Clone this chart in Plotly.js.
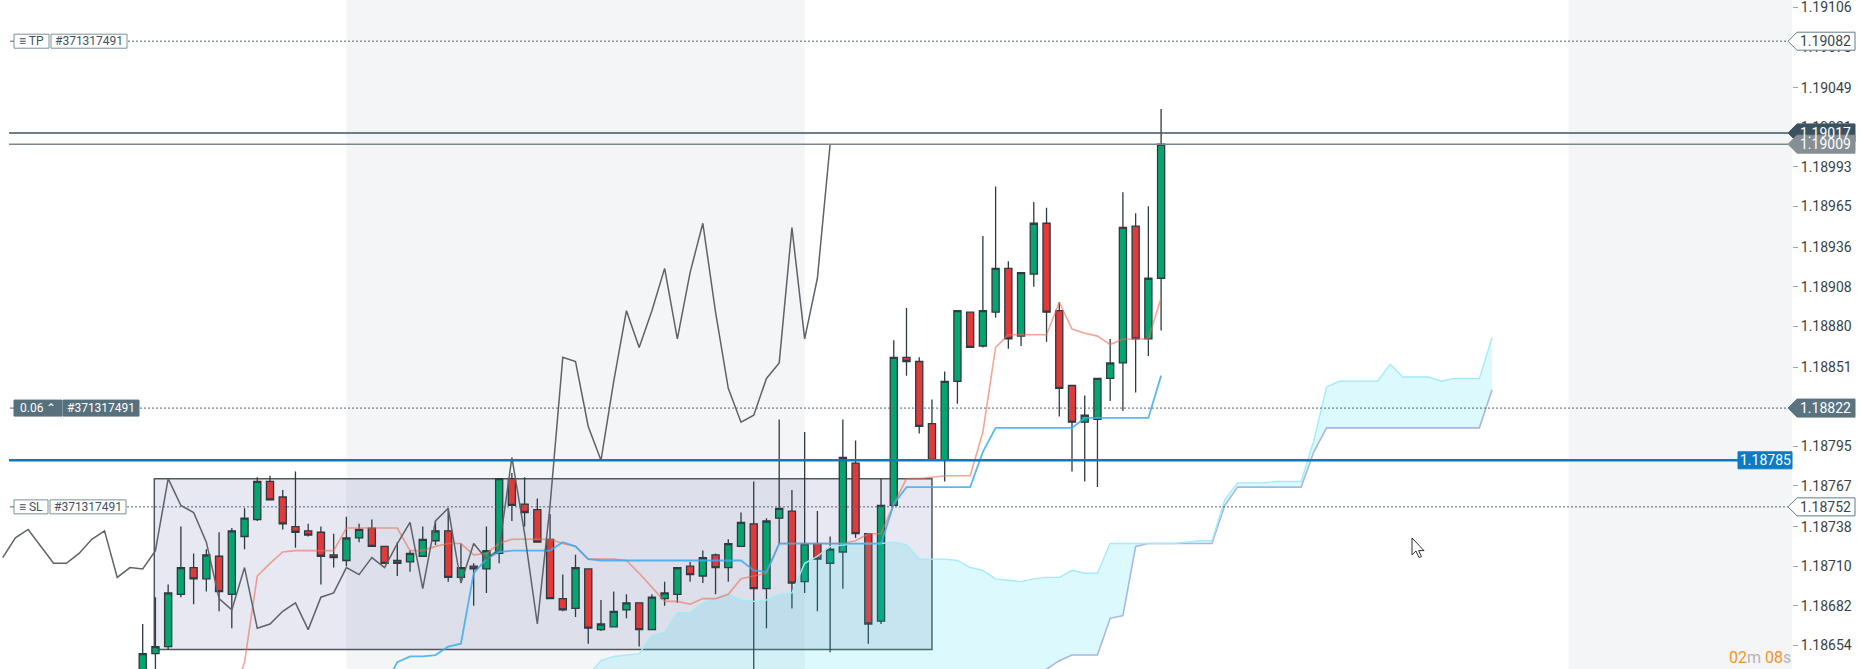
<!DOCTYPE html>
<html><head><meta charset="utf-8">
<script src="https://cdn.plot.ly/plotly-3.0.1.min.js"></script>
<style>html,body{margin:0;padding:0;background:#fff;overflow:hidden}#chart{width:1862px;height:669px}</style>
</head><body><div id="chart"></div>
<script>
// ---------- DATA ----------
const openP = [
 1.18633,1.18648,1.18653,1.18690,1.18709,1.18701,1.18717,1.18690,1.18731,1.18743,
 1.18770,1.18759,1.18738,1.18735,1.18734,1.18718,1.18714,1.18730,1.18737,1.18724,
 1.18714,1.18713,1.18717,1.18728,1.18735,1.18702,1.18710,1.18708,1.18719,1.18772,
 1.18754,1.18750,1.18729,1.18687,1.18680,1.18708,1.18665,1.18667,1.18679,1.18684,
 1.18665,1.18687,1.18690,1.18710,1.18703,1.18718,1.18709,1.18724,1.18740,1.18694,
 1.18744,1.18749,1.18699,1.18726,1.18712,1.18720,1.18783,1.18733,1.18671,1.18753,
 1.18858,1.18855,1.18811,1.18785,1.18841,1.18890,1.18866,1.18890,1.18921,1.18873,
 1.18917,1.18953,1.18891,1.18838,1.18812,1.18814,1.18843,1.18854,1.18951,1.18871,
 1.18914];
const highP = [
 1.18669,1.18688,1.18697,1.18738,1.18719,1.18722,1.18734,1.18737,1.18751,1.18773,
 1.18774,1.18764,1.18777,1.18740,1.18738,1.18733,1.18745,1.18740,1.18743,1.18724,
 1.18727,1.18721,1.18738,1.18742,1.18751,1.18726,1.18712,1.18738,1.18772,1.18776,
 1.18773,1.18758,1.18747,1.18704,1.18718,1.18708,1.18686,1.18692,1.18690,1.18684,
 1.18690,1.18699,1.18709,1.18713,1.18721,1.18719,1.18729,1.18748,1.18770,1.18744,
 1.18814,1.18764,1.18805,1.18749,1.18731,1.18814,1.18799,1.18733,1.18772,1.18870,
 1.18893,1.18858,1.18828,1.18848,1.18891,1.18890,1.18944,1.18979,1.18926,1.18918,
 1.18968,1.18964,1.18897,1.18838,1.18831,1.18843,1.18871,1.18975,1.18960,1.18965,
 1.19034];
const lowP = [
 1.18622,1.18622,1.18651,1.18688,1.18683,1.18692,1.18678,1.18666,1.18722,1.18742,
 1.18757,1.18736,1.18723,1.18731,1.18697,1.18709,1.18710,1.18727,1.18724,1.18712,
 1.18703,1.18706,1.18717,1.18725,1.18699,1.18698,1.18682,1.18691,1.18712,1.18742,
 1.18738,1.18727,1.18687,1.18678,1.18674,1.18655,1.18664,1.18667,1.18673,1.18653,
 1.18665,1.18682,1.18684,1.18699,1.18698,1.18690,1.18699,1.18724,1.18622,1.18666,
 1.18726,1.18680,1.18691,1.18678,1.18649,1.18694,1.18730,1.18655,1.18669,1.18753,
 1.18845,1.18804,1.18785,1.18770,1.18825,1.18865,1.18865,1.18886,1.18864,1.18866,
 1.18908,1.18869,1.18816,1.18777,1.18770,1.18766,1.18827,1.18820,1.18833,1.18859,
 1.18877];
const closeP = [
 1.18648,1.18653,1.18691,1.18709,1.18701,1.18718,1.18692,1.18735,1.18744,1.18770,
 1.18757,1.18740,1.18734,1.18732,1.18717,1.18716,1.18730,1.18736,1.18724,1.18712,
 1.18712,1.18719,1.18729,1.18735,1.18702,1.18709,1.18708,1.18721,1.18772,1.18753,
 1.18748,1.18727,1.18687,1.18679,1.18709,1.18666,1.18669,1.18678,1.18684,1.18665,
 1.18688,1.18691,1.18709,1.18704,1.18716,1.18709,1.18726,1.18741,1.18694,1.18742,
 1.18751,1.18698,1.18726,1.18715,1.18722,1.18787,1.18733,1.18669,1.18753,1.18858,
 1.18855,1.18809,1.18785,1.18841,1.18891,1.18865,1.18891,1.18921,1.18871,1.18918,
 1.18953,1.18890,1.18836,1.18812,1.18817,1.18843,1.18854,1.18950,1.18871,1.18914,
 1.19009];

// Lagging span (grey), starts at bar -11
const chikouStart = -11;
const chikou = [
 1.18716,1.18730,1.18736,1.18724,1.18712,1.18712,1.18719,1.18729,1.18735,1.18702,
 1.18709,1.18708,1.18721,1.18772,1.18753,1.18748,1.18727,1.18687,1.18679,1.18709,
 1.18666,1.18669,1.18678,1.18684,1.18665,1.18688,1.18691,1.18709,1.18704,1.18716,
 1.18709,1.18726,1.18741,1.18694,1.18742,1.18751,1.18698,1.18726,1.18715,1.18722,
 1.18787,1.18733,1.18669,1.18753,1.18858,1.18855,1.18809,1.18785,1.18841,1.18891,
 1.18865,1.18891,1.18921,1.18871,1.18918,1.18953,1.18890,1.18836,1.18812,1.18817,
 1.18843,1.18854,1.18950,1.18871,1.18914,1.19009];

// Conversion line (orange), starts at bar 7
const tenkanStart = 7;
const tenkan = [
 1.18615,1.18642,1.18703,1.18712,1.18720,1.18721,1.18721,1.18721,1.18721,1.18737,
 1.18737,1.18737,1.18737,1.18737,1.18721,1.18721,1.18724,1.18726,1.18726,1.18718,
 1.18719,1.18726,1.18729,1.18729,1.18729,1.18729,1.18726,1.18724,1.18715,1.18715,
 1.18715,1.18714,1.18705,1.18695,1.18685,1.18685,1.18683,1.18687,1.18687,1.18690,
 1.18701,1.18703,1.18705,1.18726,1.18726,1.18726,1.18726,1.18726,1.18726,1.18728,
 1.18733,1.18733,1.18754,1.18772,1.18772,1.18773,1.18774,1.18774,1.18774,1.18805,
 1.18865,1.18874,1.18874,1.18874,1.18874,1.18897,1.18878,1.18875,1.18873,1.18867,
 1.18871,1.18871,1.18871,1.18900];

// Base line (blue), starts at bar 19
const kijunStart = 19;
const kijun = [
 1.18625,1.18642,1.18646,1.18646,1.18647,1.18653,1.18655,1.18705,1.18715,1.18720,
 1.18721,1.18721,1.18721,1.18721,1.18727,1.18724,1.18715,1.18714,1.18714,1.18714,
 1.18714,1.18714,1.18714,1.18714,1.18714,1.18714,1.18714,1.18714,1.18714,1.18707,
 1.18706,1.18726,1.18726,1.18726,1.18726,1.18726,1.18726,1.18726,1.18726,1.18726,
 1.18754,1.18766,1.18766,1.18766,1.18766,1.18766,1.18766,1.18791,1.18808,1.18808,
 1.18808,1.18808,1.18808,1.18808,1.18808,1.18815,1.18815,1.18815,1.18815,1.18815,
 1.18815,1.18845];

// Cloud (leading spans), starts at bar 35
const cloudStart = 35;
const senkouA = [
 1.18633,1.18643,1.18646,1.18647,1.18648,1.18661,1.18663,1.18677,1.18677,1.18684,
 1.18687,1.18690,1.18686,1.18685,1.18686,1.18690,1.18691,1.18712,1.18717,1.18724,
 1.18725,1.18726,1.18726,1.18726,1.18727,1.18725,1.18715,1.18715,1.18715,1.18714,
 1.18709,1.18707,1.18701,1.18700,1.18699,1.18701,1.18702,1.18702,1.18707,1.18705,
 1.18705,1.18726,1.18726,1.18726,1.18726,1.18726,1.18726,1.18727,1.18728,1.18728,
 1.18757,1.18769,1.18769,1.18769,1.18770,1.18770,1.18770,1.18799,1.18837,1.18841,
 1.18841,1.18841,1.18841,1.18853,1.18844,1.18844,1.18844,1.18841,1.18843,1.18843,
 1.18843,1.18872];
const senkouB = [
 1.18600,1.18600,1.18600,1.18600,1.18600,1.18600,1.18600,1.18600,1.18600,1.18600,
 1.18600,1.18600,1.18600,1.18600,1.18600,1.18600,1.18600,1.18600,1.18600,1.18600,
 1.18600,1.18600,1.18600,1.18600,1.18600,1.18600,1.18600,1.18600,1.18600,1.18600,
 1.18600,1.18600,1.18600,1.18600,1.18600,1.18626,1.18637,1.18643,1.18647,1.18647,
 1.18647,1.18673,1.18675,1.18724,1.18726,1.18726,1.18726,1.18726,1.18726,1.18726,
 1.18753,1.18766,1.18766,1.18766,1.18766,1.18766,1.18766,1.18791,1.18808,1.18808,
 1.18808,1.18808,1.18808,1.18808,1.18808,1.18808,1.18808,1.18808,1.18808,1.18808,
 1.18808,1.18835];

const tickVals = [1.19106,1.19078,1.19049,1.19021,1.18993,1.18965,1.18936,1.18908,1.18880,
                  1.18851,1.18823,1.18795,1.18767,1.18738,1.18710,1.18682,1.18654];
const tickLabels = ['1.19106','1.19078','1.19049','1.19021','1.18993','1.18965','1.18936','1.18908','1.18880',
                    '1.18851','1.18823','1.18795','1.18767','1.18738','1.18710','1.18682','1.18654'];

const tpPrice = 1.19082, askPrice = 1.19017, bidPrice = 1.19009,
      entryPrice = 1.18822, alertPrice = 1.18785, slPrice = 1.18752;
const orderId = '#371317491', lotText = '0.06 \u2303';
const boxTop = 1.18772, boxBottom = 1.18651, boxFrom = 0.91, boxTo = 62;
const sessionA = [16, 52], sessionB = 112;

// ---------- GEOMETRY ----------
const PW = 1792, H = 669;
const X0 = -11.21, X1 = 129.56;
const Y0 = 1.186371, Y1 = 1.191112;
const ppp = (Y1 - Y0) / H;         // price per pixel
const px = v => v / PW;            // pixel -> paper x
const py = v => 1 - v / H;         // pixel -> paper y
const FONT = 'Roboto, "Open Sans", sans-serif';

const range = (s, n) => Array.from({length: n}, (_, k) => s + k);
const barX = range(0, openP.length);

const traces = [
  {type: 'candlestick', x: barX, open: openP, high: highP, low: lowP, close: closeP,
   increasing: {line: {color: '#2e3b42', width: 1.3}, fillcolor: '#05a56f'},
   decreasing: {line: {color: '#2e3b42', width: 1.3}, fillcolor: '#e13a3a'},
   whiskerwidth: 0, hoverinfo: 'skip', showlegend: false},
  {type: 'scatter', mode: 'lines', x: range(cloudStart, senkouB.length), y: senkouB,
   line: {color: '#a9b6e6', width: 1.6}, hoverinfo: 'skip'},
  {type: 'scatter', mode: 'lines', x: range(cloudStart, senkouA.length), y: senkouA,
   line: {color: '#a2ecf6', width: 1.4}, fill: 'tonexty', fillcolor: 'rgba(20,215,240,0.15)', hoverinfo: 'skip'},
  {type: 'scatter', mode: 'lines', x: range(tenkanStart, tenkan.length), y: tenkan,
   line: {color: 'rgba(236,112,84,0.62)', width: 1.6}, hoverinfo: 'skip'},
  {type: 'scatter', mode: 'lines', x: range(kijunStart, kijun.length), y: kijun,
   line: {color: 'rgba(60,170,240,0.85)', width: 1.8}, hoverinfo: 'skip'},
  {type: 'scatter', mode: 'lines', x: range(chikouStart, chikou.length), y: chikou,
   line: {color: '#5d6368', width: 1.5}, hoverinfo: 'skip'}
];

const shapes = [];
const annotations = [];

// session shading
shapes.push({type: 'rect', xref: 'x', yref: 'paper', x0: sessionA[0], x1: sessionA[1], y0: 0, y1: 1,
  fillcolor: '#f4f5f7', line: {width: 0}, layer: 'below'});
shapes.push({type: 'rect', xref: 'x', yref: 'paper', x0: sessionB, x1: X1, y0: 0, y1: 1,
  fillcolor: '#f4f5f7', line: {width: 0}, layer: 'below'});
// drawn rectangle
shapes.push({type: 'rect', xref: 'x', yref: 'y', x0: boxFrom, x1: boxTo, y0: boxBottom, y1: boxTop,
  fillcolor: 'rgba(105,110,170,0.16)', line: {color: '#50575d', width: 1.5}, layer: 'below'});

function hline(p, a, b, color, width, dash) {
  shapes.push({type: 'line', xref: 'paper', yref: 'y', x0: px(a), x1: px(b), y0: p, y1: p,
    line: {color, width, dash: dash || 'solid'}});
}
hline(tpPrice, 128, 1788, '#4f6470', 1, '2px,2px');
hline(entryPrice, 140, 1788, '#4f6470', 1, '2px,2px');
hline(slPrice, 127, 1788, '#4f6470', 1, '2px,2px');
hline(askPrice, 9, 1788, '#40545f', 1.5);
hline(bidPrice, 9, 1788, '#7c878d', 1.5);
hline(alertPrice, 9, 1738, '#0a79c4', 2.6);
// little lead ticks of left labels
hline(tpPrice, 10, 14, '#4f6470', 1);
hline(entryPrice, 10, 14, '#4f6470', 1);
hline(slPrice, 10, 14, '#4f6470', 1);

function box(p, a, b, hpx, fill, border) {
  shapes.push({type: 'rect', xref: 'paper', yref: 'y', x0: px(a), x1: px(b),
    y0: p - hpx * ppp, y1: p + hpx * ppp, fillcolor: fill, line: {color: border || fill, width: 1}});
}
function label(p, xc, text, size, color, anchor) {
  annotations.push({xref: 'paper', yref: 'y', x: px(xc), y: p, text, showarrow: false,
    xanchor: anchor || 'center', yanchor: 'middle', font: {family: FONT, size, color}});
}
// left order labels
box(tpPrice, 14, 49, 7, '#ffffff', '#7d909a');
box(tpPrice, 51, 127, 7, '#ffffff', '#7d909a');
label(tpPrice, 31.5, '\u2261 TP', 12, '#3f525c');
label(tpPrice, 89, orderId, 12, '#3f525c');
box(entryPrice, 14, 62, 8, '#56707d');
box(entryPrice, 63, 139, 8, '#56707d');
label(entryPrice, 38, lotText, 12, '#ffffff');
label(entryPrice, 101, orderId, 12, '#ffffff');
box(slPrice, 14, 48, 7, '#ffffff', '#7d909a');
box(slPrice, 50, 126, 7, '#ffffff', '#7d909a');
label(slPrice, 31, '\u2261 SL', 12, '#3f525c');
label(slPrice, 88, orderId, 12, '#3f525c');

// right price tags
function tag(p, fill, border, textColor) {
  const hh = 9 * ppp;
  const path = `M ${px(1788)},${p} L ${px(1797)},${p + hh} L ${px(1855)},${p + hh} L ${px(1855)},${p - hh} L ${px(1797)},${p - hh} Z`;
  shapes.push({type: 'path', xref: 'paper', yref: 'y', path, fillcolor: fill, line: {color: border || fill, width: 1}});
  label(p, 1826, p.toFixed(5), 14, textColor);
}
tag(tpPrice, '#ffffff', '#5f7d8c', '#37474f');
tag(askPrice, '#3b5360', null, '#ffffff');
tag(bidPrice, '#868f94', null, '#ffffff');
tag(entryPrice, '#5a7380', null, '#ffffff');
tag(slPrice, '#ffffff', '#5f7d8c', '#37474f');
box(alertPrice, 1738, 1792, 8.5, '#0b7cc3');
label(alertPrice, 1765, alertPrice.toFixed(5), 14, '#ffffff');

// mouse pointer
const cur = [[0,0],[0,17],[4,13],[7,19.5],[9.5,18.5],[6.6,12.6],[12,12.6]];
const cx = 1412, cy = 538;
shapes.push({type: 'path', xref: 'paper', yref: 'paper',
  path: 'M ' + cur.map(([a, b]) => `${px(cx + a)},${py(cy + b)}`).join(' L ') + ' Z',
  fillcolor: '#ffffff', line: {color: '#2a2f33', width: 1}});

// countdown
annotations.push({xref: 'paper', yref: 'paper', x: 1, y: py(668), xanchor: 'right', yanchor: 'bottom',
  showarrow: false, borderpad: 0, font: {family: FONT, size: 16, color: '#f7931e'},
  text: '02<span style="color:#b4b4b4">m</span> 08<span style="color:#b4b4b4">s</span>'});

const layout = {
  width: 1862, height: 669, margin: {l: 0, r: 70, t: 0, b: 0},
  paper_bgcolor: '#ffffff', plot_bgcolor: '#ffffff', showlegend: false,
  boxgap: 0.2, boxgroupgap: 0.3,
  font: {family: FONT},
  xaxis: {range: [X0, X1], visible: false, rangeslider: {visible: false}, fixedrange: true},
  yaxis: {range: [Y0, Y1], side: 'right', tickvals: tickVals, ticktext: tickLabels,
    ticks: 'outside', ticklen: 5, tickcolor: '#a0a6ab', showgrid: false, zeroline: false, showline: false,
    ticklabeloverflow: 'allow',
    tickfont: {family: FONT, size: 14, color: '#3a3f44'}, fixedrange: true},
  shapes, annotations
};
Plotly.newPlot('chart', traces, layout, {displayModeBar: false, staticPlot: true});
</script></body></html>
